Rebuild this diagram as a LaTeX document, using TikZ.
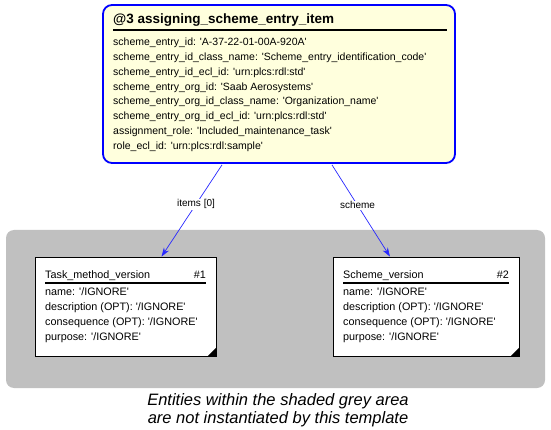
\documentclass[tikz,border=0pt]{standalone}
\usepackage{fontspec}
\setmainfont{Liberation Sans}
\usetikzlibrary{arrows.meta}
\definecolor{topfill}{RGB}{255,255,221}
\definecolor{topline}{RGB}{0,0,255}
\definecolor{greyarea}{RGB}{192,192,192}
\definecolor{linkblue}{RGB}{40,40,255}
\newcommand\sq{\textquotesingle}
\tikzset{
  x=1pt,y=-1pt,
  txt/.style={anchor=west,inner sep=0pt,font=\fontsize{10.5}{12}\selectfont,text height=7.5pt,text depth=2pt},
  etxt/.style={txt,font=\fontsize{10.8}{12}\selectfont},
  ttl/.style={txt,font=\fontsize{13.5}{15}\selectfont\bfseries,text height=9pt},
  etitle/.style={txt,font=\fontsize{10.8}{12}\selectfont},
  ebox/.style={draw=black,fill=white,line width=0.8pt,minimum width=181pt,minimum height=99pt,inner sep=0pt},
  link/.style={draw=linkblue,line width=0.7pt,-{Stealth[length=9pt,width=6pt]}},
  lbl/.style={fill=white,inner sep=1pt,font=\fontsize{10}{11}\selectfont},
}
\begin{document}
\begin{tikzpicture}
\useasboundingbox (0,0) rectangle (551,430);
% grey area
\node[fill=greyarea,rounded corners=8pt,minimum width=539pt,minimum height=158pt,inner sep=0pt] (area) at (275.5,309) {};
% top entity
\node[draw=topline,fill=topfill,line width=1.8pt,rounded corners=9pt,minimum width=352pt,minimum height=158pt,inner sep=0pt] (top) at (279,84) {};
\node[ttl] (t0) at (113,20) {@3 assigning\_scheme\_entry\_item};
\draw[line width=1.2pt] (113,30) -- (447,30);
\node[txt] (t1) at (113,43) {scheme\_entry\_id: \sq A-37-22-01-00A-920A\sq};
\node[txt] (t2) at (113,57.5) {scheme\_entry\_id\_class\_name: \sq Scheme\_entry\_identification\_code\sq};
\node[txt] (t3) at (113,72.5) {scheme\_entry\_id\_ecl\_id: \sq urn:plcs:rdl:std\sq};
\node[txt] (t4) at (113,87.5) {scheme\_entry\_org\_id: \sq Saab Aerosystems\sq};
\node[txt] (t5) at (113,102) {scheme\_entry\_org\_id\_class\_name: \sq Organization\_name\sq};
\node[txt] (t6) at (113,117) {scheme\_entry\_org\_id\_ecl\_id: \sq urn:plcs:rdl:std\sq};
\node[txt] (t7) at (113,132) {assignment\_role: \sq Included\_maintenance\_task\sq};
\node[txt] (t8) at (113,147) {role\_ecl\_id: \sq urn:plcs:rdl:sample\sq};
% left entity
\node[ebox] (tmv) at (125.5,306.5) {};
\node[etitle] (tmvt) at (45,276) {Task\_method\_version};
\node[etitle,anchor=east] (tmvn) at (206,276) {\#1};
\draw[line width=1.2pt] (45,283) -- (206,283);
\node[etxt] (l1) at (45,293) {name: \sq/IGNORE\sq};
\node[etxt] (l2) at (45,308) {description (OPT): \sq/IGNORE\sq};
\node[etxt] (l3) at (45,323) {consequence (OPT): \sq/IGNORE\sq};
\node[etxt] (l4) at (45,337.5) {purpose: \sq/IGNORE\sq};
\fill (tmv.south east) -- ++(0,-9) -- ++(-9,9) -- cycle;
% right entity
\node[ebox,minimum width=186pt] (sv) at (426,306.5) {};
\node[etitle] (svt) at (343,276) {Scheme\_version};
\node[etitle,anchor=east] (svn) at (509,276) {\#2};
\draw[line width=1.2pt] (343,283) -- (509,283);
\node[etxt] (r1) at (343,293) {name: \sq/IGNORE\sq};
\node[etxt] (r2) at (343,308) {description (OPT): \sq/IGNORE\sq};
\node[etxt] (r3) at (343,323) {consequence (OPT): \sq/IGNORE\sq};
\node[etxt] (r4) at (343,337.5) {purpose: \sq/IGNORE\sq};
\fill (sv.south east) -- ++(0,-9) -- ++(-9,9) -- cycle;
% links
\draw[link] ([xshift=-57pt,yshift=-1pt]top.south) -- node[lbl,pos=0.43] {items [0]} ([xshift=36pt]tmv.north);
\draw[link] ([xshift=53pt,yshift=-1pt]top.south) -- node[lbl,pos=0.44] {scheme} ([xshift=-36pt]sv.north);
% caption
\node[font=\fontsize{16.5}{18}\selectfont\itshape,align=center,inner sep=0pt] (cap) at (278,410) {Entities within the shaded grey area\\are not instantiated by this template};
\end{tikzpicture}
\end{document}
